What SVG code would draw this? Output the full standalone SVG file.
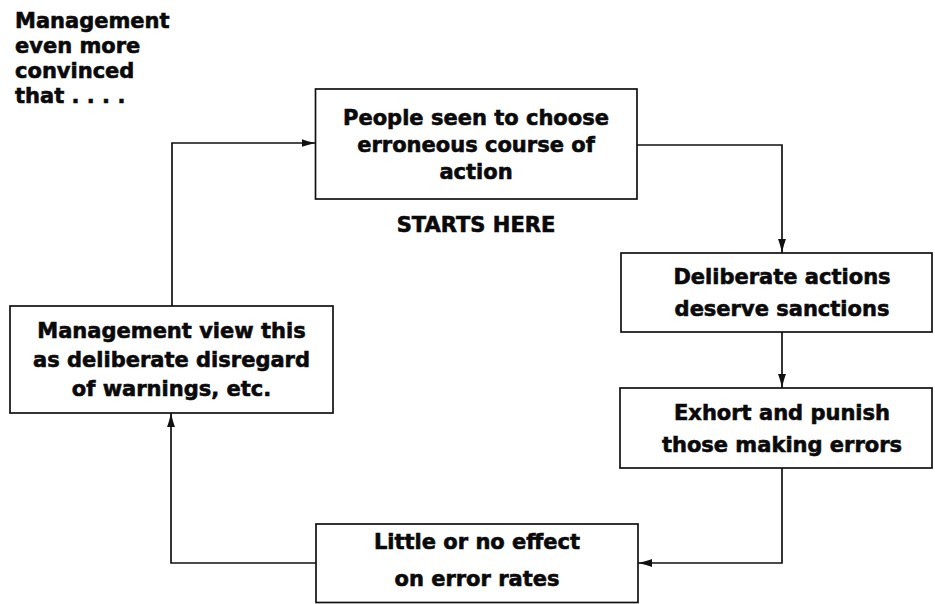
<svg xmlns="http://www.w3.org/2000/svg" width="935" height="604" viewBox="0 0 935 604">
  <style>
    .box { fill: #ffffff; stroke: #111111; stroke-width: 1.7; }
    .wire { fill: none; stroke: #111111; stroke-width: 1.7; }
    text { font-family: "DejaVu Sans", "Liberation Sans", sans-serif; font-weight: bold; font-size: 21px; fill: #0a0a0a; stroke: #0a0a0a; stroke-width: 0.6; }
    .c { text-anchor: middle; }
  </style>
  <defs>
    <marker id="arrow" viewBox="0 0 14 10" refX="14" refY="5" markerWidth="14" markerHeight="10" markerUnits="userSpaceOnUse" orient="auto">
      <path d="M0,1 Q5,3 14,5 Q5,7 0,9 Z" fill="#111111"/>
    </marker>
  </defs>

  <rect width="935" height="604" fill="#ffffff"/>

  <!-- side note -->
  <g id="note">
    <text x="15" y="28">Management</text>
    <text x="15" y="53">even more</text>
    <text x="15" y="78">convinced</text>
    <text x="15" y="103">that . . . .</text>
  </g>

  <!-- connectors -->
  <g id="connectors">
    <path class="wire" d="M637,145 H782 V253" marker-end="url(#arrow)"/>
    <path class="wire" d="M782,332 V388" marker-end="url(#arrow)"/>
    <path class="wire" d="M782,468 V563 H638" marker-end="url(#arrow)"/>
    <path class="wire" d="M316,563 H171 V413" marker-end="url(#arrow)"/>
    <path class="wire" d="M172,306 V143 H315.5" marker-end="url(#arrow)"/>
  </g>

  <g id="choose">
    <rect class="box" x="315.5" y="89" width="321.5" height="110"/>
    <text class="c" x="476" y="125">People seen to choose</text>
    <text class="c" x="476" y="152">erroneous course of</text>
    <text class="c" x="476" y="179">action</text>
  </g>

  <g id="start">
    <text class="c" x="476" y="232">STARTS HERE</text>
  </g>

  <g id="sanctions">
    <rect class="box" x="621" y="253" width="311" height="79"/>
    <text class="c" x="782" y="284">Deliberate actions</text>
    <text class="c" x="782" y="316">deserve sanctions</text>
  </g>

  <g id="punish">
    <rect class="box" x="620" y="388" width="312" height="80"/>
    <text class="c" x="782" y="420">Exhort and punish</text>
    <text class="c" x="782" y="452">those making errors</text>
  </g>

  <g id="effect">
    <rect class="box" x="316" y="524" width="322" height="78.5"/>
    <text class="c" x="477" y="549">Little or no effect</text>
    <text class="c" x="477" y="586">on error rates</text>
  </g>

  <g id="disregard">
    <rect class="box" x="10" y="306" width="323" height="107"/>
    <text class="c" x="171.5" y="338">Management view this</text>
    <text class="c" x="171.5" y="367">as deliberate disregard</text>
    <text class="c" x="171.5" y="396">of warnings, etc.</text>
  </g>
</svg>
